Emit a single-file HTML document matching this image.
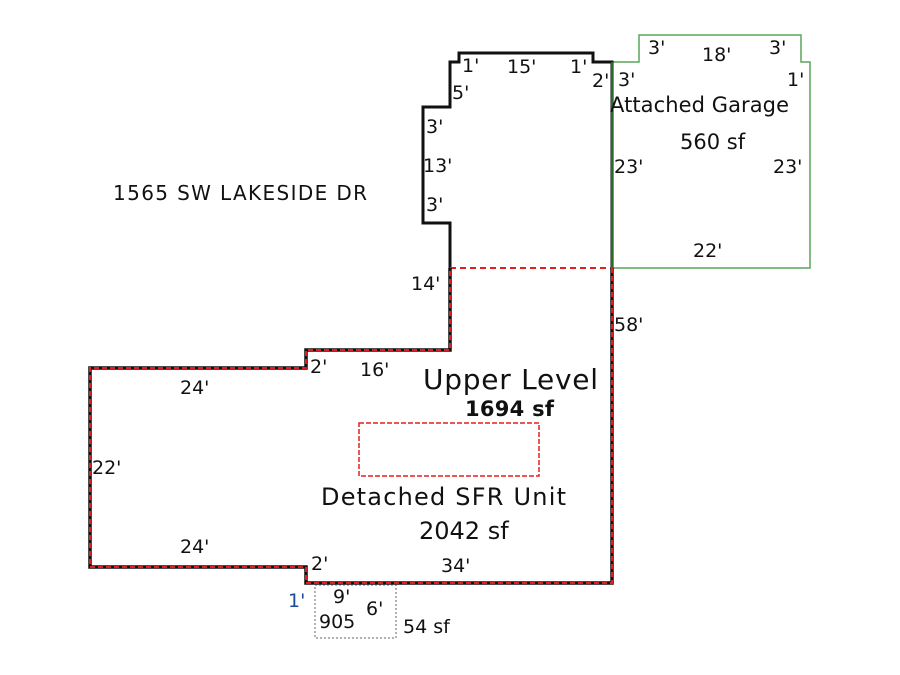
<!DOCTYPE html>
<html><head><style>body{margin:0;background:#fff}svg{display:block}text{font-family:"DejaVu Sans","Liberation Sans",sans-serif;font-size:19px;fill:#111}</style></head><body>
<svg width="900" height="675" viewBox="0 0 900 675">
<polygon points="612,62 639,62 639,35 801,35 801,62 810,62 810,268 612,268" fill="none" stroke="#5aa55a" stroke-width="1.5"/>
<polyline points="612,268 612,62 593,62 593,53 459,53 459,62 450,62 450,107 423,107 423,223 450,223 450,268" fill="none" stroke="#111" stroke-width="3"/>
<line x1="612" y1="62" x2="612" y2="268" stroke="#2a6a2a" stroke-width="2"/>
<line x1="450" y1="268" x2="612" y2="268" stroke="#e02020" stroke-width="2" stroke-dasharray="6,4"/>
<polyline points="612,268 612,583 306,583 306,567 90,567 90,368 306,368 306,350 450,350 450,268" fill="none" stroke="#111" stroke-width="3.5"/>
<polyline points="612,268 612,583 306,583 306,567 90,567 90,368 306,368 306,350 450,350 450,268" fill="none" stroke="#e02020" stroke-width="2" stroke-dasharray="5,3"/>
<rect x="359" y="423" width="180" height="53" fill="none" stroke="#e02020" stroke-width="1.5" stroke-dasharray="5,2"/>
<rect x="315" y="585" width="81" height="53" fill="none" stroke="#666" stroke-width="1" stroke-dasharray="2,2"/>
<text x="462" y="72">1'</text><text x="507" y="73">15'</text><text x="570" y="73">1'</text><text x="592" y="87">2'</text>
<text x="452" y="99">5'</text><text x="426" y="133">3'</text><text x="423" y="172">13'</text><text x="426" y="211">3'</text>
<text x="648" y="54">3'</text><text x="702" y="61">18'</text><text x="769" y="54">3'</text><text x="618" y="86">3'</text><text x="787" y="86">1'</text>
<text x="610" y="112" style="font-size:21px" textLength="179">Attached Garage</text><text x="680" y="149" style="font-size:21px">560 sf</text>
<text x="614" y="173">23'</text><text x="773" y="173">23'</text><text x="693" y="257">22'</text>
<text x="113" y="200" style="font-size:20px" textLength="254">1565 SW LAKESIDE DR</text>
<text x="411" y="290">14'</text><text x="614" y="331">58'</text>
<text x="310" y="373">2'</text><text x="360" y="376">16'</text><text x="180" y="394">24'</text>
<text x="423" y="389" style="font-size:28px" textLength="175">Upper Level</text><text x="465" y="416" style="font-size:21px;font-weight:bold" textLength="89">1694 sf</text>
<text x="92" y="474">22'</text>
<text x="321" y="505" style="font-size:24px" textLength="245">Detached SFR Unit</text><text x="419" y="539" style="font-size:24px">2042 sf</text>
<text x="180" y="553">24'</text><text x="311" y="570">2'</text><text x="441" y="572">34'</text>
<text x="288" y="607" style="fill:#1a4a9a">1'</text><text x="333" y="603">9'</text><text x="366" y="615">6'</text><text x="319" y="628">905</text>
<text x="403" y="633">54 sf</text>
</svg></body></html>
